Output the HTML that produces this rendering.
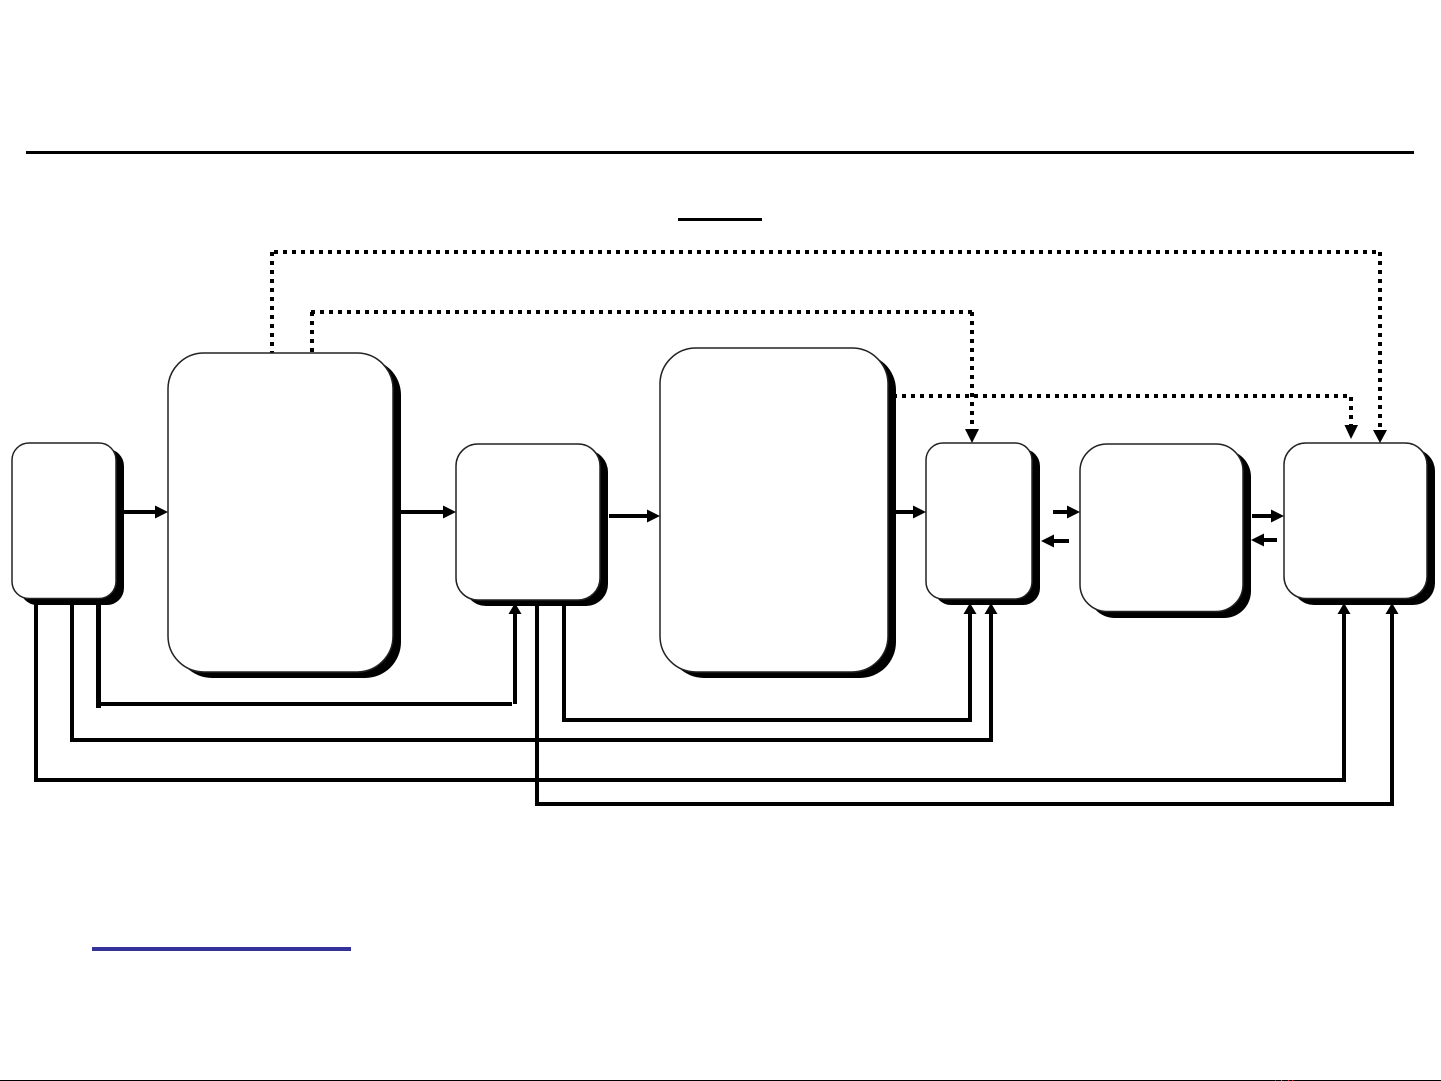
<!DOCTYPE html>
<html>
<head>
<meta charset="utf-8">
<style>
html,body{margin:0;padding:0;background:#fff;width:1441px;height:1081px;overflow:hidden}
svg{display:block}
</style>
</head>
<body>
<svg width="1441" height="1081" viewBox="0 0 1441 1081" xmlns="http://www.w3.org/2000/svg">
<rect width="1441" height="1081" fill="#fff"/>

<!-- rules -->
<g shape-rendering="crispEdges">
<rect x="26" y="151" width="1388" height="3" fill="#000"/>
<rect x="678" y="218" width="84" height="3" fill="#000"/>
<rect x="92" y="947" width="259" height="4" fill="#333399"/>
<rect x="0" y="1080" width="1441" height="1" fill="#000"/>
<rect x="1275" y="1080" width="1" height="1" fill="#3333cc"/>
<rect x="1281" y="1080" width="1" height="1" fill="#33aa55"/>
<rect x="1288" y="1080" width="1" height="1" fill="#cc2233"/>
<rect x="1292" y="1080" width="1" height="1" fill="#dd2222"/>
</g>

<!-- dotted connectors -->
<g fill="none" stroke="#000" stroke-width="4" stroke-dasharray="4 5" shape-rendering="crispEdges">
<path d="M272 355V252"/>
<path d="M274 252H1380"/>
<path d="M1380 252V430"/>
<path d="M312 352V312"/>
<path d="M311 312H972"/>
<path d="M972 312V430"/>
<path d="M893 396H1351"/>
<path d="M1351 397V426"/>
</g>

<!-- solid connectors -->
<g fill="none" stroke="#000" stroke-width="4" shape-rendering="crispEdges">
<path d="M36 600V780H1344V610"/>
<path d="M72 600V740H991V610"/>
<path d="M537 600V804H1392V610"/>
<path d="M564 600V720H970V610"/>
<path d="M515 704V610"/>
<path d="M101 704H512"/>
</g>
<rect x="96" y="600" width="5" height="108" fill="#000" shape-rendering="crispEdges"/>

<!-- shadows -->
<g fill="#000">
<rect x="20" y="449" width="104" height="156" rx="17"/>
<rect x="176" y="359" width="225" height="319" rx="36"/>
<rect x="464" y="450" width="144" height="156" rx="22"/>
<rect x="668" y="354" width="228" height="324" rx="36"/>
<rect x="934" y="449" width="106" height="156" rx="17"/>
<rect x="1088" y="450" width="163" height="168" rx="27"/>
<rect x="1292" y="449" width="143" height="156" rx="22"/>
</g>

<!-- boxes -->
<g fill="#fff" stroke="#222" stroke-width="1.500">
<rect x="12" y="443" width="104" height="155.500" rx="17"/>
<rect x="168" y="353" width="225" height="319" rx="36"/>
<rect x="456" y="444" width="144" height="156" rx="22"/>
<rect x="660" y="348" width="228" height="324" rx="36"/>
<rect x="926" y="443" width="106" height="156" rx="17"/>
<rect x="1080" y="444" width="163" height="167.500" rx="27"/>
<rect x="1284" y="443" width="143" height="155.500" rx="22"/>
</g>

<!-- short arrow shafts -->
<g fill="#000" shape-rendering="crispEdges">
<rect x="124" y="510" width="34" height="4"/>
<rect x="401" y="510" width="45" height="4"/>
<rect x="609" y="514" width="41" height="4"/>
<rect x="896" y="510" width="20" height="4"/>
<rect x="1053" y="510" width="16" height="4"/>
<rect x="1052" y="539" width="17" height="4"/>
<rect x="1252" y="514" width="22" height="4"/>
<rect x="1258" y="538" width="19" height="4"/>
</g>

<!-- arrowheads -->
<g fill="#000">
<path d="M168 512L155 505.500V518.500Z"/>
<path d="M456 512L443 505.500V518.500Z"/>
<path d="M660 516L647 509.500V522.500Z"/>
<path d="M926 512L913 505.500V518.500Z"/>
<path d="M1080 512L1067 505.500V518.500Z"/>
<path d="M1041 541L1054 534.500V547.500Z"/>
<path d="M1284 516L1271 509.500V522.500Z"/>
<path d="M1251 540L1264 533.500V546.500Z"/>
<path d="M515 603L508.500 614H521.500Z"/>
<path d="M970 603L963.500 614H976.500Z"/>
<path d="M991 603L984.500 614H997.500Z"/>
<path d="M1344 603L1337.500 614H1350.500Z"/>
<path d="M1392 603L1385.500 614H1398.500Z"/>
<path d="M972 443L965 429H979Z"/>
<path d="M1380 443L1373 430H1387Z"/>
<path d="M1351 439L1344.500 425H1358Z"/>
</g>
</svg>
</body>
</html>
